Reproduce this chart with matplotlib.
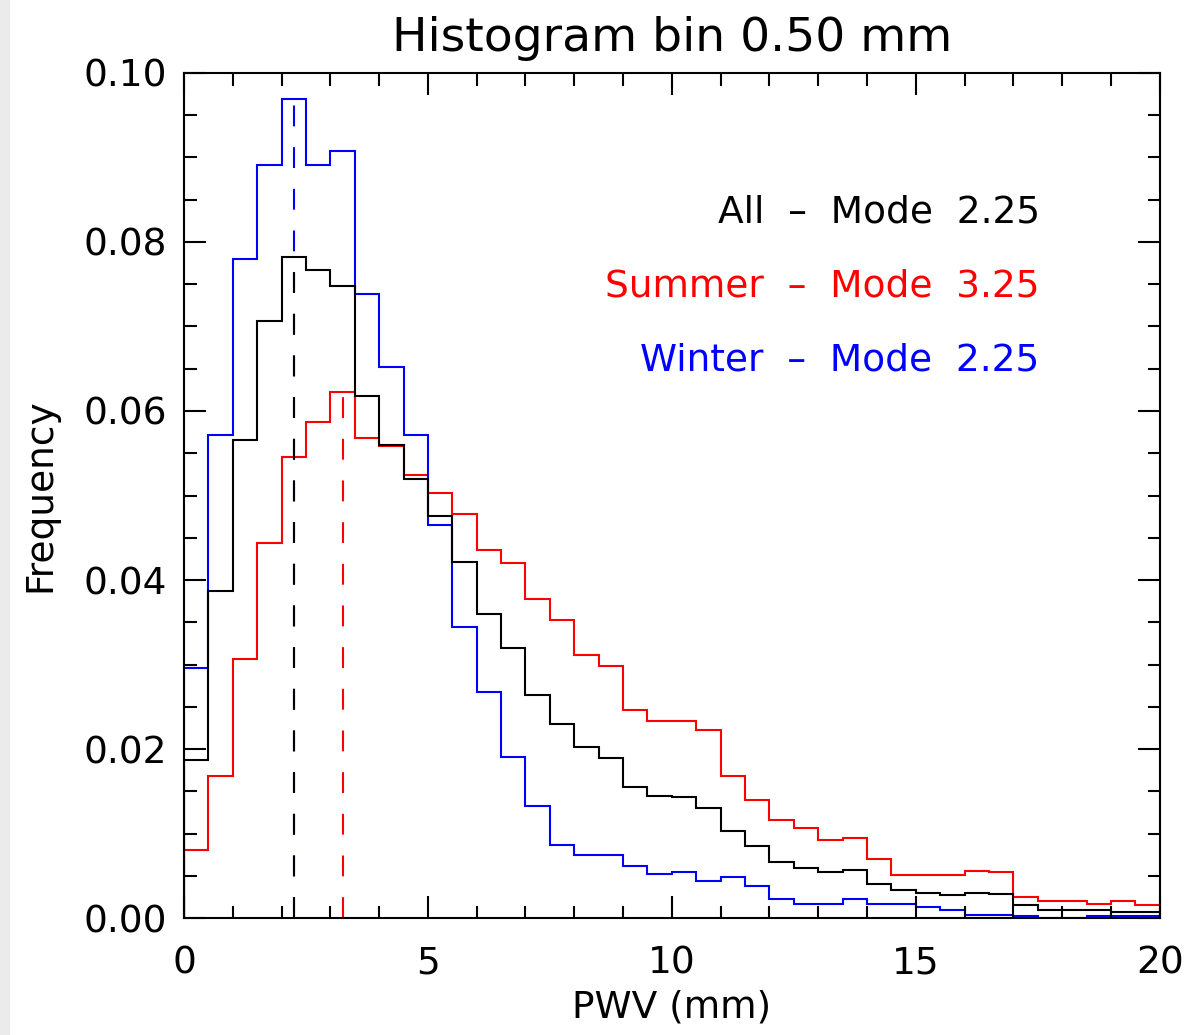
import matplotlib
matplotlib.use("Agg")
from matplotlib import pyplot as plt
from matplotlib.ticker import MultipleLocator
from matplotlib.patches import Rectangle
import numpy as np

bin_width = 0.5
edges = np.arange(0, 20 + bin_width, bin_width)

all_freq = [0.0187, 0.0387, 0.0566, 0.0707, 0.0782, 0.0767, 0.0748, 0.0618, 0.0560, 0.0520,
            0.0476, 0.0421, 0.0360, 0.0319, 0.0264, 0.0230, 0.0202, 0.0189, 0.0155, 0.0144,
            0.0143, 0.0130, 0.0103, 0.0085, 0.0066, 0.0059, 0.0054, 0.0057, 0.0040, 0.0033,
            0.0030, 0.0027, 0.0030, 0.0028, 0.0015, 0.0009, 0.0009, 0.0009, 0.0007, 0.0007]
summer_freq = [0.0080, 0.0168, 0.0306, 0.0444, 0.0545, 0.0587, 0.0623, 0.0568, 0.0559, 0.0524,
               0.0503, 0.0478, 0.0436, 0.0420, 0.0378, 0.0353, 0.0311, 0.0298, 0.0246, 0.0233,
               0.0233, 0.0222, 0.0168, 0.0140, 0.0116, 0.0106, 0.0092, 0.0095, 0.0070, 0.0051,
               0.0051, 0.0051, 0.0056, 0.0054, 0.0025, 0.0020, 0.0020, 0.0017, 0.0020, 0.0015]
winter_freq = [0.0296, 0.0572, 0.0780, 0.0891, 0.0969, 0.0891, 0.0908, 0.0738, 0.0652, 0.0572,
               0.0465, 0.0344, 0.0267, 0.0191, 0.0132, 0.0087, 0.0075, 0.0075, 0.0062, 0.0052,
               0.0054, 0.0044, 0.0048, 0.0038, 0.0022, 0.0017, 0.0017, 0.0022, 0.0017, 0.0017,
               0.0013, 0.0009, 0.0004, 0.0004, 0.0002, 0.0000, 0.0000, 0.0002, 0.0002, 0.0002]

modes = {"All": 2.25, "Summer": 3.25, "Winter": 2.25}
colors = {"All": "black", "Summer": "red", "Winter": "blue"}

fig = plt.figure(figsize=(11.87, 10.35), dpi=100)
# light grey strip on the left edge of the original screenshot
fig.patches.append(Rectangle((0, 0), 9 / 1187, 1, transform=fig.transFigure,
                             color="#ebebeb", zorder=-1))
ax = fig.add_axes([0.155, 0.113, 0.822, 0.8165])

lw = 1.5
dash = (0, (10, 10))
# winter dashed first so the black one lies over it
ax.vlines(modes["Winter"], 0, max(winter_freq), colors="blue", linestyles=dash, lw=lw)
ax.vlines(modes["All"], 0, max(all_freq), colors="black", linestyles=dash, lw=lw)
ax.vlines(modes["Summer"], 0, max(summer_freq), colors="red", linestyles=dash, lw=lw)

ax.stairs(summer_freq, edges, color="red", lw=lw)
ax.stairs(winter_freq, edges, color="blue", lw=lw)
ax.stairs(all_freq, edges, color="black", lw=lw)

ax.set_xlim(0, 20)
ax.set_ylim(0, 0.10)
ax.xaxis.set_major_locator(MultipleLocator(5))
ax.xaxis.set_minor_locator(MultipleLocator(1))
ax.yaxis.set_major_locator(MultipleLocator(0.02))
ax.yaxis.set_minor_locator(MultipleLocator(0.005))
ax.set_yticklabels([f"{v:.2f}" for v in ax.get_yticks()])
ax.tick_params(which="both", direction="in", top=True, right=True, labelsize=27, width=1.5)
ax.tick_params(axis="x", pad=20)
ax.tick_params(axis="y", pad=12)
ax.tick_params(which="major", length=16)
ax.tick_params(which="minor", length=9)
for s in ax.spines.values():
    s.set_linewidth(1.5)

ax.set_title("Histogram bin 0.50 mm", fontsize=34, pad=16)
ax.set_xlabel("PWV (mm)", fontsize=27)
ax.set_ylabel("Frequency", fontsize=27)
ax.xaxis.set_label_coords(0.5, -0.084)
ax.yaxis.set_label_coords(-0.129, 0.5)

ypos = [0.0835, 0.0747, 0.066]
for (name, mode), y in zip(modes.items(), ypos):
    ax.text(17.54, y, f"{name}  \u2013  Mode  {mode:.2f}", color=colors[name], fontsize=27,
            ha="right", va="center")

fig.savefig("out.png", dpi=100)
